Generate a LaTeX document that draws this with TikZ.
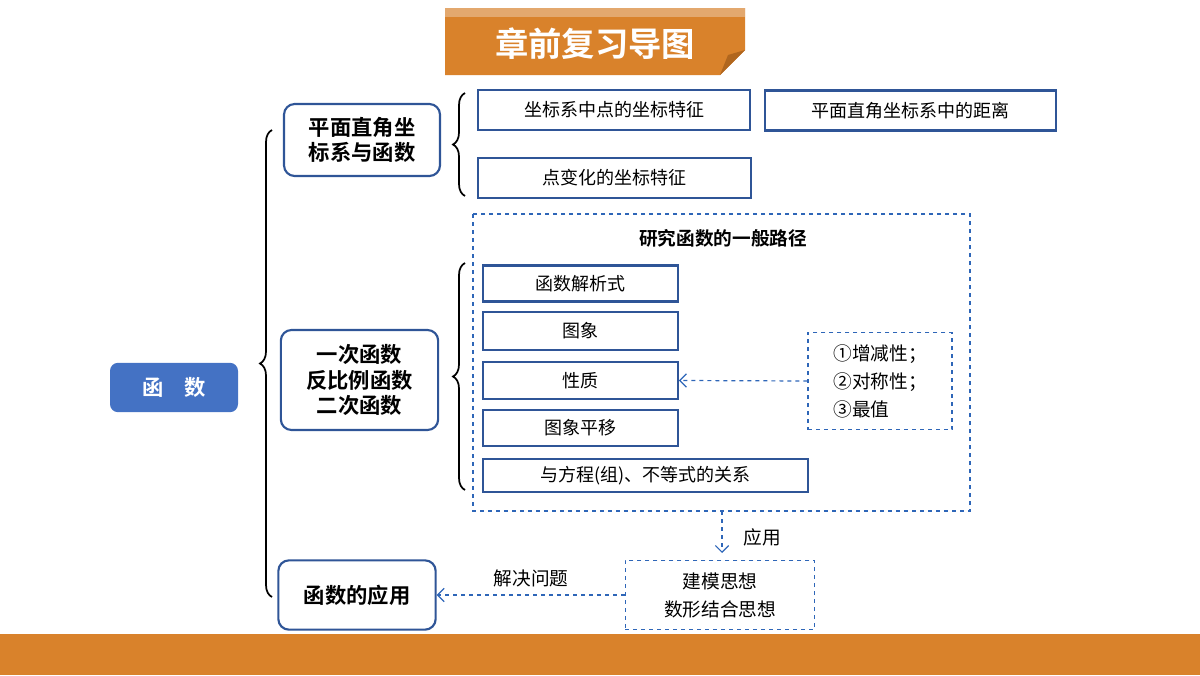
\documentclass[tikz,border=0pt]{standalone}
\usepackage{fontspec}
\newfontfamily\cjk{Noto Sans CJK SC}
\newfontfamily\cjkb{Noto Sans CJK SC Bold}
\usetikzlibrary{decorations.pathreplacing,arrows.meta}
\definecolor{bdr}{HTML}{2F5597}
\definecolor{fillb}{HTML}{4472C4}
\definecolor{org}{HTML}{D9822B}
\definecolor{orgl}{HTML}{E3A86E}
\definecolor{orgd}{HTML}{B0661E}
\definecolor{dash}{HTML}{2E66B8}
\begin{document}
\begin{tikzpicture}[x=0.75pt,y=-0.75pt,
  rbox/.style={draw=bdr,line width=1.6pt,rounded corners=8pt,font=\cjkb\fontsize{16}{19}\selectfont,align=center,inner sep=0pt},
  sbox/.style={draw=bdr,line width=1.6pt,font=\cjk\fontsize{13.5}{16}\selectfont,inner sep=0pt},
  dbox/.style={draw=dash,dashed,line width=0.9pt},
  darr/.style={draw=dash,dashed,line width=0.9pt,-{Straight Barb[length=5pt]}},
  brc/.style={decorate,decoration={brace,amplitude=9pt},line width=1.3pt}]
\useasboundingbox (0,0) rectangle (1200,675);
% title banner
\fill[org] (445,8) -- (745,8) -- (745,50) -- (720,75) -- (445,75) -- cycle;
\fill[orgl] (445,8) rectangle (745,17);
\fill[orgd] (745,50) -- (720,75) -- (728,55) -- cycle;
\node[text=white,font=\cjkb\fontsize{25}{30}\selectfont] (title) at (595,44) {章前复习导图};
% bottom bar
\fill[org] (0,634) rectangle (1200,675);
% nodes
\node[fill=fillb,rounded corners=6pt,minimum width=96pt,minimum height=37pt,text=white,font=\cjkb\fontsize{16}{19}\selectfont] (hs) at (174,387.5) {函\quad 数};
\node[rbox,minimum width=117pt,minimum height=54pt] (pm) at (362,140) {平面直角坐\\标系与函数};
\node[rbox,minimum width=118pt,minimum height=75pt] (yc) at (359.5,380) {一次函数\\反比例函数\\二次函数};
\node[rbox,minimum width=118pt,minimum height=52pt] (yy) at (357,595) {函数的应用};
\node[sbox,minimum width=204pt,minimum height=30pt] (a1) at (614,110) {坐标系中点的坐标特征};
\node[sbox,minimum width=218pt,minimum height=30pt] (a2) at (910.5,110.5) {平面直角坐标系中的距离};
\node[sbox,minimum width=205pt,minimum height=30pt] (a3) at (614.5,178) {点变化的坐标特征};
\draw[dbox] (473,214) rectangle (970,511);
\node[font=\cjkb\fontsize{14}{17}\selectfont] (lj) at (723,238) {研究函数的一般路径};
\node[sbox,minimum width=146pt,minimum height=27pt] (b1) at (580.5,283.5) {函数解析式};
\node[sbox,minimum width=146pt,minimum height=28pt] (b2) at (580.5,331) {图象};
\node[sbox,minimum width=146pt,minimum height=28pt] (b3) at (580.5,380.5) {性质};
\node[sbox,minimum width=146pt,minimum height=27pt] (b4) at (580.5,428) {图象平移};
\node[sbox,minimum width=244pt,minimum height=25pt] (b5) at (645.5,475.5) {与方程(组)、不等式的关系};
\node[dbox,minimum width=108pt,minimum height=73pt,font=\cjk\fontsize{14}{21}\selectfont,align=left,inner sep=0pt] (xz) at (880,381) {①增减性；\\②对称性；\\③最值};
\draw[darr] (xz.west) -- (b3.east);
\coordinate (bot) at (722,511);
\node[dbox,minimum width=142pt,minimum height=52pt,align=center,font=\cjk\fontsize{14}{21}\selectfont,inner sep=0pt] (jm) at (720,595) {建模思想\\数形结合思想};
\draw[darr] (bot) -- (722,553);
\node[font=\cjk\fontsize{14}{17}\selectfont] (yyl) at (762,537) {应用};
\draw[darr] (jm.west) -- (yy.east);
\node[font=\cjk\fontsize{14}{17}\selectfont] (jj) at (531,578) {解决问题};
% braces
\draw[brc] (272,597) -- (272,130);
\draw[brc] (465,196) -- (465,93);
\draw[brc] (465,490) -- (465,263);
\end{tikzpicture}
\end{document}
